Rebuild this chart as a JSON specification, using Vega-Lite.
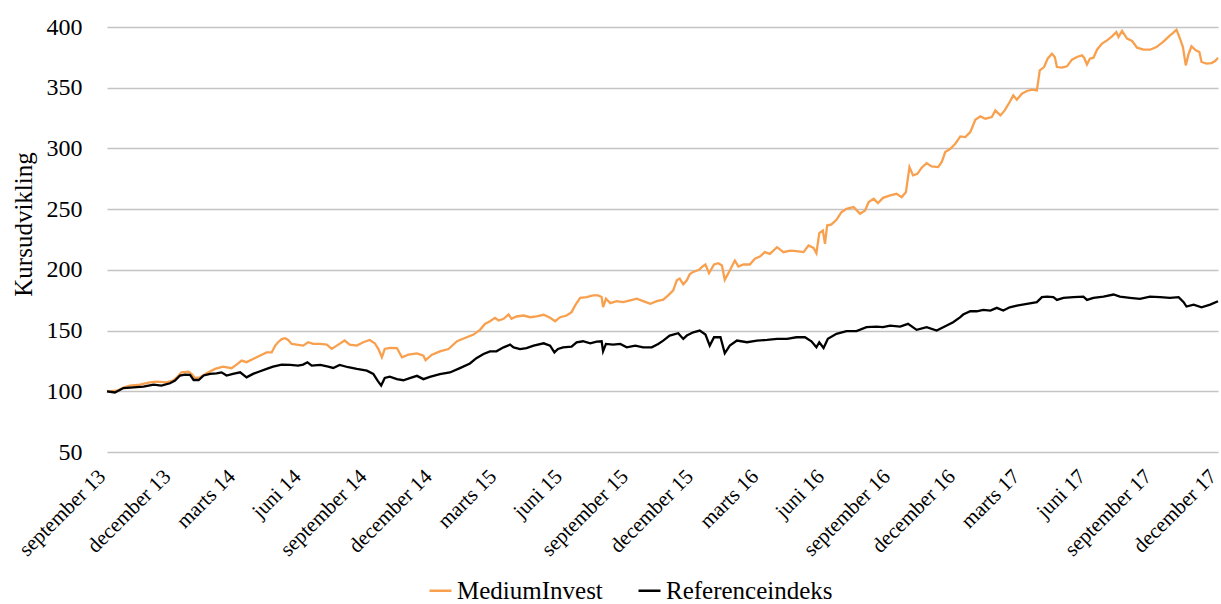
{
 "$schema": "https://vega.github.io/schema/vega-lite/v6.json",
 "width": 1111, "height": 425,
 "autosize": {"type": "none"},
 "padding": {"left": 107, "top": 27, "right": 3, "bottom": 152},
 "background": "white",
 "config": {"view": {"stroke": null}, "font": "Liberation Serif"},
 "data": {"values": [
{"date":"2013-09-01","series":"MediumInvest","value":100},
{"date":"2013-09-15","series":"MediumInvest","value":100.5},
{"date":"2013-09-24","series":"MediumInvest","value":103},
{"date":"2013-10-03","series":"MediumInvest","value":104.7},
{"date":"2013-10-17","series":"MediumInvest","value":105.5},
{"date":"2013-10-31","series":"MediumInvest","value":107.4},
{"date":"2013-11-09","series":"MediumInvest","value":108},
{"date":"2013-11-23","series":"MediumInvest","value":107.4},
{"date":"2013-12-03","series":"MediumInvest","value":109},
{"date":"2013-12-10","series":"MediumInvest","value":113},
{"date":"2013-12-14","series":"MediumInvest","value":115.6},
{"date":"2013-12-24","series":"MediumInvest","value":116.2},
{"date":"2013-12-28","series":"MediumInvest","value":114.3},
{"date":"2014-01-02","series":"MediumInvest","value":111},
{"date":"2014-01-09","series":"MediumInvest","value":111.5},
{"date":"2014-01-18","series":"MediumInvest","value":114.8},
{"date":"2014-01-30","series":"MediumInvest","value":118.4},
{"date":"2014-02-10","series":"MediumInvest","value":120.3},
{"date":"2014-02-22","series":"MediumInvest","value":119},
{"date":"2014-03-01","series":"MediumInvest","value":122},
{"date":"2014-03-08","series":"MediumInvest","value":125.3},
{"date":"2014-03-15","series":"MediumInvest","value":124},
{"date":"2014-03-24","series":"MediumInvest","value":126.6},
{"date":"2014-04-03","series":"MediumInvest","value":129.4},
{"date":"2014-04-12","series":"MediumInvest","value":132},
{"date":"2014-04-19","series":"MediumInvest","value":132},
{"date":"2014-04-24","series":"MediumInvest","value":137.6},
{"date":"2014-04-28","series":"MediumInvest","value":140.4},
{"date":"2014-05-03","series":"MediumInvest","value":143},
{"date":"2014-05-08","series":"MediumInvest","value":143.7},
{"date":"2014-05-12","series":"MediumInvest","value":142.3},
{"date":"2014-05-17","series":"MediumInvest","value":139},
{"date":"2014-05-24","series":"MediumInvest","value":138.5},
{"date":"2014-06-02","series":"MediumInvest","value":137.6},
{"date":"2014-06-09","series":"MediumInvest","value":140.4},
{"date":"2014-06-16","series":"MediumInvest","value":139},
{"date":"2014-06-26","series":"MediumInvest","value":139},
{"date":"2014-07-05","series":"MediumInvest","value":138.5},
{"date":"2014-07-12","series":"MediumInvest","value":134.9},
{"date":"2014-07-19","series":"MediumInvest","value":137.6},
{"date":"2014-07-30","series":"MediumInvest","value":141.8},
{"date":"2014-08-06","series":"MediumInvest","value":138.5},
{"date":"2014-08-16","series":"MediumInvest","value":137.6},
{"date":"2014-08-25","series":"MediumInvest","value":140.4},
{"date":"2014-09-03","series":"MediumInvest","value":142.3},
{"date":"2014-09-10","series":"MediumInvest","value":139.6},
{"date":"2014-09-15","series":"MediumInvest","value":134.9},
{"date":"2014-09-20","series":"MediumInvest","value":128},
{"date":"2014-09-24","series":"MediumInvest","value":134.9},
{"date":"2014-10-01","series":"MediumInvest","value":135.7},
{"date":"2014-10-11","series":"MediumInvest","value":135.6},
{"date":"2014-10-18","series":"MediumInvest","value":127.9},
{"date":"2014-10-27","series":"MediumInvest","value":130.1},
{"date":"2014-11-08","series":"MediumInvest","value":131.2},
{"date":"2014-11-17","series":"MediumInvest","value":129.3},
{"date":"2014-11-20","series":"MediumInvest","value":125.7},
{"date":"2014-11-29","series":"MediumInvest","value":130.1},
{"date":"2014-12-10","series":"MediumInvest","value":132.9},
{"date":"2014-12-22","series":"MediumInvest","value":134.8},
{"date":"2015-01-03","series":"MediumInvest","value":141.2},
{"date":"2015-01-14","series":"MediumInvest","value":143.9},
{"date":"2015-01-26","series":"MediumInvest","value":146.7},
{"date":"2015-02-04","series":"MediumInvest","value":150.6},
{"date":"2015-02-11","series":"MediumInvest","value":155.5},
{"date":"2015-02-18","series":"MediumInvest","value":157.7},
{"date":"2015-02-25","series":"MediumInvest","value":160.5},
{"date":"2015-03-02","series":"MediumInvest","value":158.3},
{"date":"2015-03-09","series":"MediumInvest","value":159.7},
{"date":"2015-03-16","series":"MediumInvest","value":163.3},
{"date":"2015-03-20","series":"MediumInvest","value":159.7},
{"date":"2015-03-27","series":"MediumInvest","value":161.6},
{"date":"2015-04-06","series":"MediumInvest","value":162.4},
{"date":"2015-04-15","series":"MediumInvest","value":161},
{"date":"2015-04-24","series":"MediumInvest","value":161.6},
{"date":"2015-05-04","series":"MediumInvest","value":163},
{"date":"2015-05-13","series":"MediumInvest","value":160.5},
{"date":"2015-05-20","series":"MediumInvest","value":157.7},
{"date":"2015-05-27","series":"MediumInvest","value":161},
{"date":"2015-06-05","series":"MediumInvest","value":162.4},
{"date":"2015-06-12","series":"MediumInvest","value":165.2},
{"date":"2015-06-17","series":"MediumInvest","value":170.7},
{"date":"2015-06-24","series":"MediumInvest","value":177},
{"date":"2015-07-03","series":"MediumInvest","value":177.6},
{"date":"2015-07-12","series":"MediumInvest","value":179},
{"date":"2015-07-19","series":"MediumInvest","value":179},
{"date":"2015-07-24","series":"MediumInvest","value":177.6},
{"date":"2015-07-26","series":"MediumInvest","value":169.3},
{"date":"2015-07-30","series":"MediumInvest","value":176.2},
{"date":"2015-08-05","series":"MediumInvest","value":172.6},
{"date":"2015-08-14","series":"MediumInvest","value":174.3},
{"date":"2015-08-23","series":"MediumInvest","value":173.5},
{"date":"2015-09-02","series":"MediumInvest","value":174.9},
{"date":"2015-09-11","series":"MediumInvest","value":176.2},
{"date":"2015-09-20","series":"MediumInvest","value":174.3},
{"date":"2015-09-30","series":"MediumInvest","value":172.1},
{"date":"2015-10-09","series":"MediumInvest","value":174.3},
{"date":"2015-10-18","series":"MediumInvest","value":175.4},
{"date":"2015-10-25","series":"MediumInvest","value":179},
{"date":"2015-11-01","series":"MediumInvest","value":183.1},
{"date":"2015-11-06","series":"MediumInvest","value":191.4},
{"date":"2015-11-10","series":"MediumInvest","value":192.8},
{"date":"2015-11-15","series":"MediumInvest","value":188.1},
{"date":"2015-11-20","series":"MediumInvest","value":191.4},
{"date":"2015-11-24","series":"MediumInvest","value":196.4},
{"date":"2015-11-28","series":"MediumInvest","value":198.1},
{"date":"2015-12-07","series":"MediumInvest","value":200},
{"date":"2015-12-12","series":"MediumInvest","value":202.8},
{"date":"2015-12-16","series":"MediumInvest","value":204.4},
{"date":"2015-12-21","series":"MediumInvest","value":197.3},
{"date":"2015-12-28","series":"MediumInvest","value":204.4},
{"date":"2016-01-03","series":"MediumInvest","value":205.5},
{"date":"2016-01-08","series":"MediumInvest","value":203.6},
{"date":"2016-01-12","series":"MediumInvest","value":191.8},
{"date":"2016-01-19","series":"MediumInvest","value":199.5},
{"date":"2016-01-26","series":"MediumInvest","value":207.7},
{"date":"2016-01-31","series":"MediumInvest","value":202.8},
{"date":"2016-02-07","series":"MediumInvest","value":204.4},
{"date":"2016-02-16","series":"MediumInvest","value":204.4},
{"date":"2016-02-23","series":"MediumInvest","value":209.1},
{"date":"2016-03-01","series":"MediumInvest","value":211},
{"date":"2016-03-08","series":"MediumInvest","value":214.6},
{"date":"2016-03-15","series":"MediumInvest","value":213.2},
{"date":"2016-03-25","series":"MediumInvest","value":218.7},
{"date":"2016-04-03","series":"MediumInvest","value":214.6},
{"date":"2016-04-12","series":"MediumInvest","value":215.9},
{"date":"2016-04-21","series":"MediumInvest","value":215.4},
{"date":"2016-05-01","series":"MediumInvest","value":214.6},
{"date":"2016-05-08","series":"MediumInvest","value":220.1},
{"date":"2016-05-15","series":"MediumInvest","value":218.1},
{"date":"2016-05-19","series":"MediumInvest","value":213.7},
{"date":"2016-05-23","series":"MediumInvest","value":230.2},
{"date":"2016-05-28","series":"MediumInvest","value":232.4},
{"date":"2016-05-31","series":"MediumInvest","value":221.4},
{"date":"2016-06-03","series":"MediumInvest","value":236.5},
{"date":"2016-06-09","series":"MediumInvest","value":237.4},
{"date":"2016-06-16","series":"MediumInvest","value":241.2},
{"date":"2016-06-23","series":"MediumInvest","value":247.5},
{"date":"2016-06-30","series":"MediumInvest","value":250.3},
{"date":"2016-07-10","series":"MediumInvest","value":251.7},
{"date":"2016-07-19","series":"MediumInvest","value":246.2},
{"date":"2016-07-26","series":"MediumInvest","value":248.9},
{"date":"2016-07-31","series":"MediumInvest","value":255.8},
{"date":"2016-08-07","series":"MediumInvest","value":258.5},
{"date":"2016-08-13","series":"MediumInvest","value":255},
{"date":"2016-08-20","series":"MediumInvest","value":259.3},
{"date":"2016-08-30","series":"MediumInvest","value":261.3},
{"date":"2016-09-08","series":"MediumInvest","value":262.6},
{"date":"2016-09-15","series":"MediumInvest","value":259.9},
{"date":"2016-09-21","series":"MediumInvest","value":264},
{"date":"2016-09-26","series":"MediumInvest","value":284.6},
{"date":"2016-10-01","series":"MediumInvest","value":277.8},
{"date":"2016-10-07","series":"MediumInvest","value":279.1},
{"date":"2016-10-13","series":"MediumInvest","value":284.1},
{"date":"2016-10-20","series":"MediumInvest","value":287.9},
{"date":"2016-10-27","series":"MediumInvest","value":285.2},
{"date":"2016-11-05","series":"MediumInvest","value":284.6},
{"date":"2016-11-10","series":"MediumInvest","value":288.7},
{"date":"2016-11-15","series":"MediumInvest","value":297},
{"date":"2016-11-22","series":"MediumInvest","value":299.7},
{"date":"2016-11-29","series":"MediumInvest","value":303.9},
{"date":"2016-12-06","series":"MediumInvest","value":309.9},
{"date":"2016-12-13","series":"MediumInvest","value":309.3},
{"date":"2016-12-20","series":"MediumInvest","value":313.5},
{"date":"2016-12-27","series":"MediumInvest","value":323.6},
{"date":"2017-01-03","series":"MediumInvest","value":326.4},
{"date":"2017-01-10","series":"MediumInvest","value":324.5},
{"date":"2017-01-19","series":"MediumInvest","value":325.8},
{"date":"2017-01-24","series":"MediumInvest","value":331.3},
{"date":"2017-01-31","series":"MediumInvest","value":327.2},
{"date":"2017-02-06","series":"MediumInvest","value":331.3},
{"date":"2017-02-13","series":"MediumInvest","value":338.2},
{"date":"2017-02-18","series":"MediumInvest","value":343.7},
{"date":"2017-02-23","series":"MediumInvest","value":340.1},
{"date":"2017-03-02","series":"MediumInvest","value":345.1},
{"date":"2017-03-09","series":"MediumInvest","value":347.3},
{"date":"2017-03-16","series":"MediumInvest","value":348.4},
{"date":"2017-03-23","series":"MediumInvest","value":347.8},
{"date":"2017-03-27","series":"MediumInvest","value":364.3},
{"date":"2017-04-02","series":"MediumInvest","value":367},
{"date":"2017-04-07","series":"MediumInvest","value":373.9},
{"date":"2017-04-13","series":"MediumInvest","value":378},
{"date":"2017-04-17","series":"MediumInvest","value":375.3},
{"date":"2017-04-20","series":"MediumInvest","value":367},
{"date":"2017-04-27","series":"MediumInvest","value":366.5},
{"date":"2017-05-04","series":"MediumInvest","value":367.6},
{"date":"2017-05-11","series":"MediumInvest","value":373.1},
{"date":"2017-05-18","series":"MediumInvest","value":375.3},
{"date":"2017-05-25","series":"MediumInvest","value":376.6},
{"date":"2017-05-28","series":"MediumInvest","value":374.7},
{"date":"2017-06-01","series":"MediumInvest","value":369.2},
{"date":"2017-06-05","series":"MediumInvest","value":373.9},
{"date":"2017-06-10","series":"MediumInvest","value":374.7},
{"date":"2017-06-15","series":"MediumInvest","value":381.3},
{"date":"2017-06-22","series":"MediumInvest","value":386.3},
{"date":"2017-06-29","series":"MediumInvest","value":389},
{"date":"2017-07-06","series":"MediumInvest","value":392.3},
{"date":"2017-07-12","series":"MediumInvest","value":395.9},
{"date":"2017-07-15","series":"MediumInvest","value":391.8},
{"date":"2017-07-20","series":"MediumInvest","value":396.7},
{"date":"2017-07-27","series":"MediumInvest","value":390.4},
{"date":"2017-08-03","series":"MediumInvest","value":388.5},
{"date":"2017-08-10","series":"MediumInvest","value":383},
{"date":"2017-08-19","series":"MediumInvest","value":381.3},
{"date":"2017-08-28","series":"MediumInvest","value":381.3},
{"date":"2017-09-06","series":"MediumInvest","value":383.5},
{"date":"2017-09-15","series":"MediumInvest","value":387.6},
{"date":"2017-09-25","series":"MediumInvest","value":393.1},
{"date":"2017-09-29","series":"MediumInvest","value":395},
{"date":"2017-10-04","series":"MediumInvest","value":397.8},
{"date":"2017-10-08","series":"MediumInvest","value":391.8},
{"date":"2017-10-13","series":"MediumInvest","value":383.5},
{"date":"2017-10-17","series":"MediumInvest","value":368.4},
{"date":"2017-10-21","series":"MediumInvest","value":378},
{"date":"2017-10-25","series":"MediumInvest","value":384.1},
{"date":"2017-10-31","series":"MediumInvest","value":380.8},
{"date":"2017-11-05","series":"MediumInvest","value":379.4},
{"date":"2017-11-08","series":"MediumInvest","value":371.2},
{"date":"2017-11-15","series":"MediumInvest","value":369.8},
{"date":"2017-11-22","series":"MediumInvest","value":370.3},
{"date":"2017-11-27","series":"MediumInvest","value":372},
{"date":"2017-12-01","series":"MediumInvest","value":374.7},
{"date":"2013-09-01","series":"Referenceindeks","value":100},
{"date":"2013-09-12","series":"Referenceindeks","value":99},
{"date":"2013-09-24","series":"Referenceindeks","value":102.7},
{"date":"2013-10-08","series":"Referenceindeks","value":103.3},
{"date":"2013-10-22","series":"Referenceindeks","value":103.8},
{"date":"2013-11-05","series":"Referenceindeks","value":105.5},
{"date":"2013-11-16","series":"Referenceindeks","value":104.7},
{"date":"2013-11-28","series":"Referenceindeks","value":106.6},
{"date":"2013-12-05","series":"Referenceindeks","value":108.8},
{"date":"2013-12-12","series":"Referenceindeks","value":113},
{"date":"2013-12-19","series":"Referenceindeks","value":113.7},
{"date":"2013-12-26","series":"Referenceindeks","value":113.5},
{"date":"2013-12-31","series":"Referenceindeks","value":109.3},
{"date":"2014-01-07","series":"Referenceindeks","value":109.3},
{"date":"2014-01-14","series":"Referenceindeks","value":113},
{"date":"2014-01-23","series":"Referenceindeks","value":114.3},
{"date":"2014-02-01","series":"Referenceindeks","value":114.8},
{"date":"2014-02-08","series":"Referenceindeks","value":115.6},
{"date":"2014-02-15","series":"Referenceindeks","value":113},
{"date":"2014-02-24","series":"Referenceindeks","value":114.3},
{"date":"2014-03-06","series":"Referenceindeks","value":115.6},
{"date":"2014-03-15","series":"Referenceindeks","value":111.5},
{"date":"2014-03-24","series":"Referenceindeks","value":114.3},
{"date":"2014-04-03","series":"Referenceindeks","value":116.5},
{"date":"2014-04-12","series":"Referenceindeks","value":118.4},
{"date":"2014-04-21","series":"Referenceindeks","value":120.3},
{"date":"2014-05-03","series":"Referenceindeks","value":122},
{"date":"2014-05-15","series":"Referenceindeks","value":121.7},
{"date":"2014-05-26","series":"Referenceindeks","value":121.2},
{"date":"2014-06-02","series":"Referenceindeks","value":122},
{"date":"2014-06-08","series":"Referenceindeks","value":123.9},
{"date":"2014-06-14","series":"Referenceindeks","value":121.2},
{"date":"2014-06-26","series":"Referenceindeks","value":121.7},
{"date":"2014-07-07","series":"Referenceindeks","value":120.3},
{"date":"2014-07-14","series":"Referenceindeks","value":119.2},
{"date":"2014-07-23","series":"Referenceindeks","value":121.7},
{"date":"2014-08-04","series":"Referenceindeks","value":119.8},
{"date":"2014-08-16","series":"Referenceindeks","value":118.4},
{"date":"2014-08-30","series":"Referenceindeks","value":117},
{"date":"2014-09-08","series":"Referenceindeks","value":114.3},
{"date":"2014-09-14","series":"Referenceindeks","value":108.8},
{"date":"2014-09-19","series":"Referenceindeks","value":104.7},
{"date":"2014-09-24","series":"Referenceindeks","value":111},
{"date":"2014-10-01","series":"Referenceindeks","value":112.1},
{"date":"2014-10-11","series":"Referenceindeks","value":110},
{"date":"2014-10-20","series":"Referenceindeks","value":109.1},
{"date":"2014-10-29","series":"Referenceindeks","value":110.8},
{"date":"2014-11-08","series":"Referenceindeks","value":112.7},
{"date":"2014-11-17","series":"Referenceindeks","value":110},
{"date":"2014-11-26","series":"Referenceindeks","value":111.9},
{"date":"2014-12-10","series":"Referenceindeks","value":114.1},
{"date":"2014-12-24","series":"Referenceindeks","value":115.5},
{"date":"2015-01-07","series":"Referenceindeks","value":119.1},
{"date":"2015-01-21","series":"Referenceindeks","value":122.9},
{"date":"2015-01-30","series":"Referenceindeks","value":127.3},
{"date":"2015-02-09","series":"Referenceindeks","value":130.7},
{"date":"2015-02-18","series":"Referenceindeks","value":132.9},
{"date":"2015-02-27","series":"Referenceindeks","value":132.9},
{"date":"2015-03-09","series":"Referenceindeks","value":136.2},
{"date":"2015-03-18","series":"Referenceindeks","value":138.4},
{"date":"2015-03-23","series":"Referenceindeks","value":136.2},
{"date":"2015-04-01","series":"Referenceindeks","value":134.8},
{"date":"2015-04-10","series":"Referenceindeks","value":135.6},
{"date":"2015-04-20","series":"Referenceindeks","value":137.6},
{"date":"2015-05-04","series":"Referenceindeks","value":139.5},
{"date":"2015-05-13","series":"Referenceindeks","value":137.6},
{"date":"2015-05-19","series":"Referenceindeks","value":132},
{"date":"2015-05-24","series":"Referenceindeks","value":134.8},
{"date":"2015-05-31","series":"Referenceindeks","value":136.2},
{"date":"2015-06-12","series":"Referenceindeks","value":136.7},
{"date":"2015-06-19","series":"Referenceindeks","value":140.3},
{"date":"2015-06-28","series":"Referenceindeks","value":141.2},
{"date":"2015-07-08","series":"Referenceindeks","value":139.5},
{"date":"2015-07-17","series":"Referenceindeks","value":140.9},
{"date":"2015-07-24","series":"Referenceindeks","value":141.2},
{"date":"2015-07-26","series":"Referenceindeks","value":132.9},
{"date":"2015-07-30","series":"Referenceindeks","value":139},
{"date":"2015-08-09","series":"Referenceindeks","value":138.4},
{"date":"2015-08-19","series":"Referenceindeks","value":139},
{"date":"2015-08-28","series":"Referenceindeks","value":136.2},
{"date":"2015-09-09","series":"Referenceindeks","value":137.6},
{"date":"2015-09-20","series":"Referenceindeks","value":136.2},
{"date":"2015-10-02","series":"Referenceindeks","value":136.2},
{"date":"2015-10-11","series":"Referenceindeks","value":139},
{"date":"2015-10-18","series":"Referenceindeks","value":141.7},
{"date":"2015-10-27","series":"Referenceindeks","value":145.9},
{"date":"2015-11-08","series":"Referenceindeks","value":147.8},
{"date":"2015-11-15","series":"Referenceindeks","value":143.1},
{"date":"2015-11-20","series":"Referenceindeks","value":145.9},
{"date":"2015-11-29","series":"Referenceindeks","value":148.6},
{"date":"2015-12-08","series":"Referenceindeks","value":150},
{"date":"2015-12-16","series":"Referenceindeks","value":146.7},
{"date":"2015-12-22","series":"Referenceindeks","value":137.6},
{"date":"2015-12-28","series":"Referenceindeks","value":144.5},
{"date":"2016-01-06","series":"Referenceindeks","value":144.5},
{"date":"2016-01-12","series":"Referenceindeks","value":131.3},
{"date":"2016-01-19","series":"Referenceindeks","value":137.6},
{"date":"2016-01-29","series":"Referenceindeks","value":141.8},
{"date":"2016-02-12","series":"Referenceindeks","value":140.4},
{"date":"2016-02-26","series":"Referenceindeks","value":141.8},
{"date":"2016-03-11","series":"Referenceindeks","value":142.3},
{"date":"2016-03-25","series":"Referenceindeks","value":143.2},
{"date":"2016-04-08","series":"Referenceindeks","value":143.2},
{"date":"2016-04-21","series":"Referenceindeks","value":144.5},
{"date":"2016-05-03","series":"Referenceindeks","value":144.5},
{"date":"2016-05-12","series":"Referenceindeks","value":141.2},
{"date":"2016-05-19","series":"Referenceindeks","value":136.3},
{"date":"2016-05-23","series":"Referenceindeks","value":140.4},
{"date":"2016-05-29","series":"Referenceindeks","value":135.7},
{"date":"2016-06-04","series":"Referenceindeks","value":143.2},
{"date":"2016-06-16","series":"Referenceindeks","value":147.3},
{"date":"2016-06-30","series":"Referenceindeks","value":149.5},
{"date":"2016-07-14","series":"Referenceindeks","value":149.5},
{"date":"2016-07-28","series":"Referenceindeks","value":152.8},
{"date":"2016-08-11","series":"Referenceindeks","value":153.3},
{"date":"2016-08-20","series":"Referenceindeks","value":152.8},
{"date":"2016-08-30","series":"Referenceindeks","value":154.1},
{"date":"2016-09-13","series":"Referenceindeks","value":153.3},
{"date":"2016-09-24","series":"Referenceindeks","value":155.5},
{"date":"2016-10-06","series":"Referenceindeks","value":150.6},
{"date":"2016-10-20","series":"Referenceindeks","value":152.8},
{"date":"2016-11-03","series":"Referenceindeks","value":150},
{"date":"2016-11-17","series":"Referenceindeks","value":154.1},
{"date":"2016-11-26","series":"Referenceindeks","value":156.9},
{"date":"2016-12-06","series":"Referenceindeks","value":161},
{"date":"2016-12-10","series":"Referenceindeks","value":163.2},
{"date":"2016-12-20","series":"Referenceindeks","value":165.9},
{"date":"2016-12-29","series":"Referenceindeks","value":165.9},
{"date":"2017-01-07","series":"Referenceindeks","value":167},
{"date":"2017-01-17","series":"Referenceindeks","value":166.5},
{"date":"2017-01-26","series":"Referenceindeks","value":168.7},
{"date":"2017-02-04","series":"Referenceindeks","value":166.5},
{"date":"2017-02-13","series":"Referenceindeks","value":169.2},
{"date":"2017-02-23","series":"Referenceindeks","value":170.6},
{"date":"2017-03-09","series":"Referenceindeks","value":172},
{"date":"2017-03-23","series":"Referenceindeks","value":173.4},
{"date":"2017-03-30","series":"Referenceindeks","value":177.5},
{"date":"2017-04-06","series":"Referenceindeks","value":178},
{"date":"2017-04-15","series":"Referenceindeks","value":177.5},
{"date":"2017-04-20","series":"Referenceindeks","value":175.3},
{"date":"2017-04-29","series":"Referenceindeks","value":177},
{"date":"2017-05-13","series":"Referenceindeks","value":177.5},
{"date":"2017-05-27","series":"Referenceindeks","value":178},
{"date":"2017-06-01","series":"Referenceindeks","value":175.3},
{"date":"2017-06-10","series":"Referenceindeks","value":177},
{"date":"2017-06-24","series":"Referenceindeks","value":178},
{"date":"2017-07-08","series":"Referenceindeks","value":179.7},
{"date":"2017-07-17","series":"Referenceindeks","value":178},
{"date":"2017-07-31","series":"Referenceindeks","value":177},
{"date":"2017-08-14","series":"Referenceindeks","value":176.1},
{"date":"2017-08-28","series":"Referenceindeks","value":178},
{"date":"2017-09-11","series":"Referenceindeks","value":177.5},
{"date":"2017-09-25","series":"Referenceindeks","value":177},
{"date":"2017-10-07","series":"Referenceindeks","value":177.5},
{"date":"2017-10-14","series":"Referenceindeks","value":173.4},
{"date":"2017-10-18","series":"Referenceindeks","value":169.8},
{"date":"2017-10-28","series":"Referenceindeks","value":171.4},
{"date":"2017-11-08","series":"Referenceindeks","value":169.2},
{"date":"2017-11-20","series":"Referenceindeks","value":171.4},
{"date":"2017-12-01","series":"Referenceindeks","value":174.2}
 ]},
 "mark": {"type": "line", "strokeWidth": 2.3, "interpolate": "linear"},
 "encoding": {
  "x": {"field": "date", "type": "temporal",
   "scale": {"type": "utc", "nice": false, "domain": [{"year":2013,"month":9,"date":1,"utc":true},{"year":2017,"month":12,"date":1,"utc":true}]},
   "axis": {"title": null, "grid": false, "ticks": false, "domain": false,
    "values": [
     {"year":2013,"month":9,"date":1,"utc":true},{"year":2013,"month":12,"date":1,"utc":true},
     {"year":2014,"month":3,"date":1,"utc":true},{"year":2014,"month":6,"date":1,"utc":true},
     {"year":2014,"month":9,"date":1,"utc":true},{"year":2014,"month":12,"date":1,"utc":true},
     {"year":2015,"month":3,"date":1,"utc":true},{"year":2015,"month":6,"date":1,"utc":true},
     {"year":2015,"month":9,"date":1,"utc":true},{"year":2015,"month":12,"date":1,"utc":true},
     {"year":2016,"month":3,"date":1,"utc":true},{"year":2016,"month":6,"date":1,"utc":true},
     {"year":2016,"month":9,"date":1,"utc":true},{"year":2016,"month":12,"date":1,"utc":true},
     {"year":2017,"month":3,"date":1,"utc":true},{"year":2017,"month":6,"date":1,"utc":true},
     {"year":2017,"month":9,"date":1,"utc":true},{"year":2017,"month":12,"date":1,"utc":true}
    ],
    "labelExpr": "['januar','februar','marts','april','maj','juni','juli','august','september','oktober','november','december'][utcmonth(datum.value)] + ' ' + utcFormat(datum.value, '%y')",
    "labelAngle": -45, "labelAlign": "right", "labelBaseline": "middle", "labelPadding": 21, "labelOffset": -5,
    "labelFontSize": 21, "labelColor": "#000000", "labelFont": "Liberation Serif",
    "labelOverlap": false, "labelBound": false, "labelFlush": false}
  },
  "y": {"field": "value", "type": "quantitative",
   "scale": {"domain": [50, 400], "nice": false, "zero": false},
   "axis": {"title": "Kursudvikling", "values": [50,100,150,200,250,300,350,400],
    "ticks": false, "domain": false, "gridColor": "#c4c4c4", "gridWidth": 1.3,
    "labelFontSize": 24, "labelColor": "#000000", "labelFont": "Liberation Serif", "labelPadding": 25,
    "titleFontSize": 25, "titleFontWeight": "normal", "titleColor": "#000000", "titleFont": "Liberation Serif",
    "titlePadding": 10, "titleY": 197}
  },
  "color": {"field": "series", "type": "nominal",
   "scale": {"domain": ["MediumInvest", "Referenceindeks"], "range": ["#F9A04F", "#000000"]},
   "legend": {"title": null, "orient": "none", "legendX": 321, "legendY": 551, "direction": "horizontal",
    "symbolType": "stroke", "symbolSize": 484, "symbolStrokeWidth": 2.5,
    "labelFontSize": 25, "labelColor": "#000000", "labelFont": "Liberation Serif", "labelOffset": 4,
    "labelLimit": 400, "columnPadding": 30, "padding": 0}
  }
 }
}
